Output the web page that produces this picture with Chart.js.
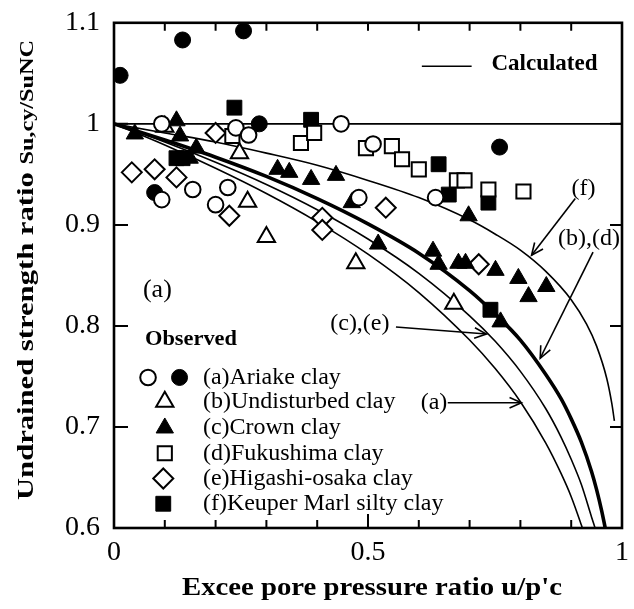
<!DOCTYPE html>
<html><head><meta charset="utf-8">
<script src="https://cdn.jsdelivr.net/npm/chart.js@4.4.1/dist/chart.umd.min.js"></script>
<style>html,body{margin:0;padding:0;background:#fff}canvas{display:block}</style>
</head><body>
<canvas id="c" width="634" height="609"></canvas>
<script>
// ---- tick labels ----
const xTickValues = [0, 0.5, 1];
const xTickLabels = ['0', '0.5', '1'];
const xMinorTicks = [0.1, 0.2, 0.3, 0.4, 0.5, 0.6, 0.7, 0.8, 0.9];
const yTickValues = [0.6, 0.7, 0.8, 0.9, 1.0, 1.1];
const yTickLabels = ['0.6', '0.7', '0.8', '0.9', '1', '1.1'];

// ---- observed data [u/p'c, Su,cy/SuNC] ----
const ariakeOpen = [[0.094,1.0],[0.094,0.925],[0.155,0.935],[0.224,0.937],[0.2,0.92],[0.24,0.996],[0.265,0.989],[0.447,1.0],[0.51,0.98],[0.482,0.927],[0.633,0.927]];
const ariakeFilled = [[0.012,1.048],[0.135,1.083],[0.255,1.092],[0.286,1.0],[0.759,0.977],[0.08,0.932]];
const undisturbed = [[0.1,0.997],[0.247,0.971],[0.263,0.923],[0.3,0.888],[0.476,0.862],[0.669,0.822]];
const crown = [[0.041,0.99],[0.123,1.003],[0.13,0.988],[0.149,0.966],[0.162,0.976],[0.322,0.955],[0.345,0.952],[0.388,0.945],[0.437,0.949],[0.468,0.922],[0.52,0.881],[0.628,0.874],[0.639,0.861],[0.678,0.862],[0.692,0.862],[0.698,0.909],[0.751,0.855],[0.796,0.847],[0.816,0.829],[0.851,0.839],[0.761,0.804]];
const fukushima = [[0.233,0.988],[0.368,0.981],[0.394,0.991],[0.496,0.976],[0.547,0.978],[0.567,0.965],[0.6,0.955],[0.675,0.944],[0.69,0.944],[0.737,0.935],[0.806,0.933]];
const higashi = [[0.035,0.952],[0.08,0.955],[0.123,0.947],[0.227,0.909],[0.2,0.991],[0.41,0.907],[0.41,0.895],[0.535,0.917],[0.718,0.861]];
const keuper = [[0.237,1.016],[0.388,1.004],[0.123,0.966],[0.135,0.966],[0.639,0.96],[0.659,0.93],[0.737,0.922],[0.741,0.816]];

// ---- calculated curves ----
const curveA = [[0,1],[0.1,0.979],[0.2,0.956],[0.3,0.931],[0.4,0.903],[0.5,0.871],[0.6,0.833],[0.7,0.786],[0.75,0.758],[0.8,0.725],[0.85,0.684],[0.88,0.654],[0.9,0.631],[0.92,0.603],[0.922,0.6]];
const curveCE = [[0,1],[0.1,0.982],[0.2,0.962],[0.3,0.94],[0.4,0.915],[0.5,0.886],[0.6,0.852],[0.7,0.81],[0.75,0.785],[0.8,0.755],[0.85,0.718],[0.88,0.69],[0.9,0.668],[0.92,0.643],[0.94,0.611],[0.947,0.6]];
const curveBD = [[0,1],[0.1,0.984],[0.2,0.967],[0.3,0.948],[0.4,0.926],[0.5,0.901],[0.6,0.872],[0.7,0.835],[0.75,0.812],[0.8,0.786],[0.85,0.752],[0.88,0.728],[0.9,0.708],[0.92,0.685],[0.94,0.656],[0.95,0.638],[0.96,0.617],[0.967,0.6]];
const curveF = [[0,1],[0.1,0.991],[0.2,0.982],[0.3,0.971],[0.4,0.959],[0.5,0.944],[0.6,0.927],[0.7,0.905],[0.75,0.891],[0.8,0.875],[0.85,0.854],[0.9,0.826],[0.93,0.802],[0.95,0.78],[0.97,0.748],[0.98,0.723],[0.985,0.706]];
const refLine = [[0,1],[1,1]];

// ---- legend / annotation text ----
const legendRows = [
  {label:'(a)Ariake clay', y:0.749},
  {label:'(b)Undisturbed clay', y:0.725},
  {label:'(c)Crown clay', y:0.699},
  {label:'(d)Fukushima clay', y:0.674},
  {label:'(e)Higashi-osaka clay', y:0.649},
  {label:'(f)Keuper Marl silty clay', y:0.624}
];

const SERIF = '"Liberation Serif", "Times New Roman", serif';
const toPts = a => a.map(([x,y]) => ({x, y}));

function markerDs(label, arr, style, r, filled){
  return {label, data: toPts(arr), showLine:false, pointStyle:style, pointRadius:r, pointHoverRadius:r,
    pointBackgroundColor: filled ? '#000' : '#fff', pointBorderColor:'#000', pointBorderWidth: filled ? 1 : 2};
}
function lineDs(label, arr, w){
  return {label, data: toPts(arr), showLine:true, pointRadius:0, borderColor:'#000', borderWidth:w,
    cubicInterpolationMode:'monotone', fill:false};
}

const markerStyles = {
  ariakeOpen:{style:'circle', r:7.8, filled:false},
  ariakeFilled:{style:'circle', r:8, filled:true},
  undisturbed:{style:'triangle', r:10, filled:false},
  crown:{style:'triangle', r:10, filled:true},
  fukushima:{style:'rect', r:10, filled:false},
  higashi:{style:'rectRot', r:10, filled:false},
  keuper:{style:'rect', r:10.5, filled:true}
};

const datasets = [
  markerDs('Ariake open', ariakeOpen, 'circle', 7.8, false),
  markerDs('Ariake filled', ariakeFilled, 'circle', 8, true),
  markerDs('Undisturbed', undisturbed, 'triangle', 10, false),
  markerDs('Crown', crown, 'triangle', 10, true),
  markerDs('Fukushima', fukushima, 'rect', 10, false),
  markerDs('Higashi-osaka', higashi, 'rectRot', 10, false),
  markerDs('Keuper', keuper, 'rect', 10.5, true),
  lineDs('(a)', curveA, 1.6),
  lineDs('(c),(e)', curveCE, 1.6),
  lineDs('(b),(d)', curveBD, 3.6),
  lineDs('(f)', curveF, 1.6),
  lineDs('ref', refLine, 1.8)
];

function arrow(ctx, x1, y1, x2, y2){
  ctx.beginPath(); ctx.moveTo(x1,y1); ctx.lineTo(x2,y2); ctx.stroke();
  const ang = Math.atan2(y2-y1, x2-x1), L = 13, s = 0.42;
  ctx.beginPath();
  ctx.moveTo(x2 - L*Math.cos(ang - s), y2 - L*Math.sin(ang - s));
  ctx.lineTo(x2, y2);
  ctx.lineTo(x2 - L*Math.cos(ang + s), y2 - L*Math.sin(ang + s));
  ctx.stroke();
}

function drawMarker(ctx, style, x, y){
  const m = markerStyles[style];
  ctx.fillStyle = m.filled ? '#000' : '#fff';
  ctx.strokeStyle = '#000';
  ctx.lineWidth = m.filled ? 1 : 2;
  Chart.helpers.drawPoint(ctx, {pointStyle:m.style, radius:m.r, borderWidth:ctx.lineWidth, rotation:0}, x, y);
}

function fitText(ctx, text, x, y, target){
  const w = ctx.measureText(text).width;
  const k = target / w;
  ctx.save(); ctx.translate(x, y); ctx.scale(k, 1); ctx.fillText(text, 0, 0); ctx.restore();
}

const framePlugin = {
  id:'frame',
  afterDatasetsDraw(chart){
    const {ctx, chartArea:a, scales:{x, y}} = chart;
    ctx.save();
    ctx.strokeStyle = '#000';
    ctx.lineWidth = 2.6;
    ctx.strokeRect(a.left, a.top, a.right - a.left, a.bottom - a.top);
    ctx.lineWidth = 2;
    ctx.beginPath();
    for (const v of xMinorTicks){
      const px = x.getPixelForValue(v);
      const L = Math.abs(v - 0.5) < 1e-6 ? 14 : 8;
      ctx.moveTo(px, a.bottom); ctx.lineTo(px, a.bottom - L);
      ctx.moveTo(px, a.top); ctx.lineTo(px, a.top + 8);
    }
    for (const v of yTickValues.slice(1, -1)){
      const py = y.getPixelForValue(v);
      ctx.moveTo(a.left, py); ctx.lineTo(a.left + 14, py);
      ctx.moveTo(a.right, py); ctx.lineTo(a.right - 12, py);
    }
    ctx.stroke();

    // annotations
    const X = v => x.getPixelForValue(v), Y = v => y.getPixelForValue(v);
    ctx.fillStyle = '#000';
    ctx.lineWidth = 1.6;
    // Calculated legend
    ctx.beginPath(); ctx.moveTo(X(0.606), Y(1.057)); ctx.lineTo(X(0.704), Y(1.057)); ctx.stroke();
    ctx.textBaseline = 'middle'; ctx.textAlign = 'left';
    ctx.font = 'bold 23px ' + SERIF;
    ctx.fillText('Calculated', X(0.743), Y(1.059));
    // (a) panel label
    ctx.font = '26px ' + SERIF;
    ctx.fillText('(a)', X(0.057), Y(0.835));
    // Observed
    ctx.font = 'bold 20px ' + SERIF;
    fitText(ctx, 'Observed', X(0.061), Y(0.786), 92);
    // legend rows
    ctx.font = '24px ' + SERIF;
    const lx = X(0.175);
    legendRows.forEach(r => ctx.fillText(r.label, lx, Y(r.y)));
    drawMarker(ctx, 'ariakeOpen', X(0.067), Y(legendRows[0].y));
    drawMarker(ctx, 'ariakeFilled', X(0.129), Y(legendRows[0].y));
    drawMarker(ctx, 'undisturbed', X(0.1), Y(legendRows[1].y));
    drawMarker(ctx, 'crown', X(0.1), Y(legendRows[2].y));
    drawMarker(ctx, 'fukushima', X(0.1), Y(legendRows[3].y));
    drawMarker(ctx, 'higashi', X(0.097), Y(legendRows[4].y));
    drawMarker(ctx, 'keuper', X(0.097), Y(legendRows[5].y));

    // curve labels + arrows
    ctx.fillStyle = '#000'; ctx.strokeStyle = '#000'; ctx.lineWidth = 1.6;
    ctx.font = '24px ' + SERIF;
    ctx.textAlign = 'center';
    ctx.fillText('(f)', X(0.924), Y(0.936));
    arrow(ctx, X(0.908), Y(0.926), X(0.822), Y(0.870));
    ctx.fillText('(b),(d)', X(0.935), Y(0.886));
    arrow(ctx, X(0.943), Y(0.873), X(0.839), Y(0.768));
    ctx.fillText('(c),(e)', X(0.484), Y(0.802));
    arrow(ctx, X(0.555), Y(0.799), X(0.733), Y(0.792));
    ctx.fillText('(a)', X(0.63), Y(0.724));
    arrow(ctx, X(0.657), Y(0.724), X(0.802), Y(0.724));
    ctx.restore();
  },
  afterDraw(chart){
    const ctx = chart.ctx;
    ctx.save();
    ctx.fillStyle = '#000';
    // x title
    ctx.font = 'bold 26px ' + SERIF;
    ctx.textBaseline = 'middle'; ctx.textAlign = 'left';
    const xt = "Excee pore pressure ratio u/p'c";
    fitText(ctx, xt, 182, 588, 380);
    // y title (rotated)
    ctx.translate(33, 270);
    ctx.rotate(-Math.PI / 2);
    ctx.textBaseline = 'alphabetic';
    const p1 = 'Undrained strength ratio ', p2 = 'Su,cy/SuNC';
    ctx.font = 'bold 24px ' + SERIF;
    const w1 = ctx.measureText(p1).width;
    ctx.font = 'bold 19px ' + SERIF;
    const w2 = ctx.measureText(p2).width;
    const k = 460 / (w1 + w2);
    ctx.scale(k, 1);
    const start = -(w1 + w2) / 2;
    ctx.font = 'bold 24px ' + SERIF;
    ctx.fillText(p1, start, 0);
    ctx.font = 'bold 19px ' + SERIF;
    ctx.fillText(p2, start + w1, 0);
    ctx.restore();
  }
};

new Chart(document.getElementById('c'), {
  type:'scatter',
  data:{datasets},
  options:{
    responsive:false, animation:false,
    layout:{padding:{top:18, right:10, left:0, bottom:0}},
    plugins:{legend:{display:false}, tooltip:{enabled:false}},
    scales:{
      x:{type:'linear', min:0, max:1,
        afterBuildTicks: s => { s.ticks = xTickValues.map(v => ({value:v})); },
        afterFit: s => { s.height = 81; },
        grid:{display:false}, border:{display:false},
        ticks:{color:'#000', font:{family:SERIF, size:28}, padding:0,
          callback:(v, i) => xTickLabels[i], maxRotation:0, autoSkip:false}
      },
      y:{type:'linear', min:0.6, max:1.1,
        afterBuildTicks: s => { s.ticks = yTickValues.map(v => ({value:v})); },
        afterFit: s => { s.width = 114; },
        grid:{display:false}, border:{display:false},
        ticks:{color:'#000', font:{family:SERIF, size:28}, padding:6,
          callback:(v, i) => yTickLabels[i], autoSkip:false}
      }
    }
  },
  plugins:[framePlugin]
});
</script>
</body></html>
